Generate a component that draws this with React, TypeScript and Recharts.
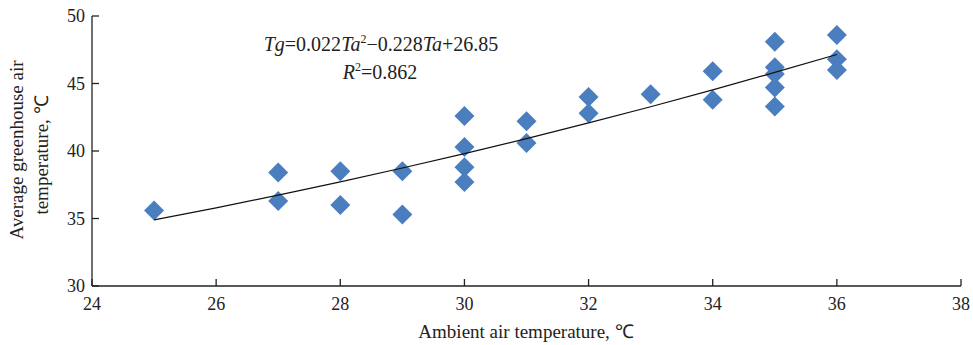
import { Customized, Scatter, ScatterChart, XAxis, YAxis } from "recharts";

// measured greenhouse vs ambient temperatures
const ambient = [25, 27, 27, 28, 28, 29, 29, 30, 30, 30, 30, 31, 31, 32, 32, 33, 34, 34, 35, 35, 35, 35, 35, 36, 36, 36];
const greenhouse = [35.6, 38.4, 36.3, 38.5, 36.0, 38.5, 35.3, 42.6, 40.3, 38.8, 37.7, 42.2, 40.6, 44.0, 42.8, 44.2, 45.9, 43.8, 48.1, 46.2, 45.7, 44.7, 43.3, 48.6, 46.8, 46.0];

// fitted curve Tg = 0.022Ta^2 - 0.228Ta + 26.85
const fitX = [25, 26, 27, 28, 29, 30, 31, 32, 33, 34, 35, 36];
const fitY = [34.9, 35.79, 36.73, 37.71, 38.74, 39.81, 40.92, 42.08, 43.28, 44.53, 45.82, 47.15];

const xTicks = [24, 26, 28, 30, 32, 34, 36, 38];
const yTicks = [30, 35, 40, 45, 50];

const points = ambient.map((x, i) => ({ x, y: greenhouse[i] }));
const fit = fitX.map((x, i) => ({ x, y: fitY[i] }));

const FONT = '"Liberation Serif", "Times New Roman", serif';
const INK = "#222";
const BLUE = "#4a7ebf";

const Diamond = (props: any) => {
  const { cx, cy } = props;
  const r = 10;
  return <path d={`M${cx},${cy - r}L${cx + r},${cy}L${cx},${cy + r}L${cx - r},${cy}Z`} fill={BLUE} />;
};

const NoDot = () => <g />;

// tick marks point into the plot, so labels are offset by hand
const XTick = (props: any) => {
  const { x, y, payload } = props;
  return (
    <text x={x} y={y + 31} textAnchor="middle" fontFamily={FONT} fontSize={18} fill={INK}>
      {payload.value}
    </text>
  );
};

const YTick = (props: any) => {
  const { x, y, payload } = props;
  return (
    <text x={x - 14} y={y + 6} textAnchor="end" fontFamily={FONT} fontSize={18} fill={INK}>
      {payload.value}
    </text>
  );
};

const Equation = () => (
  <g fontFamily={FONT} fontSize={20} fill={INK}>
    <text x={381} y={51} textAnchor="middle">
      <tspan fontStyle="italic">Tg</tspan>
      <tspan>=0.022</tspan>
      <tspan fontStyle="italic">Ta</tspan>
      <tspan fontSize={12} dy={-8}>2</tspan>
      <tspan dy={8}>−0.228</tspan>
      <tspan fontStyle="italic">Ta</tspan>
      <tspan>+26.85</tspan>
    </text>
    <text x={380} y={79} textAnchor="middle">
      <tspan fontStyle="italic">R</tspan>
      <tspan fontSize={12} dy={-8}>2</tspan>
      <tspan dy={8}>=0.862</tspan>
    </text>
  </g>
);

const YTitle = () => (
  <g fontFamily={FONT} fontSize={19} fill={INK}>
    <text x={23} y={150} textAnchor="middle" transform="rotate(-90 23 150)">Average greenhouse air</text>
    <text x={48} y={155} textAnchor="middle" transform="rotate(-90 48 155)">temperature, ℃</text>
  </g>
);

const XTitle = () => (
  <text x={526} y={338} textAnchor="middle" fontFamily={FONT} fontSize={19} fill={INK}>
    Ambient air temperature, ℃
  </text>
);

export default function App() {
  return (
    <div style={{ position: "absolute", left: 0, top: 0, width: 973, height: 345, background: "#fff" }}>
      <ScatterChart width={973} height={345} margin={{ top: 16, right: 12, bottom: 0, left: 0 }} style={{ fontFamily: FONT }}>
        <XAxis
          type="number"
          dataKey="x"
          domain={[24, 38]}
          ticks={xTicks}
          height={59}
          tickSize={-7}
          tickMargin={0}
          axisLine={{ stroke: INK, strokeWidth: 1.3 }}
          tickLine={{ stroke: INK, strokeWidth: 1.3 }}
          tick={<XTick />}
        />
        <YAxis
          type="number"
          dataKey="y"
          domain={[30, 50]}
          ticks={yTicks}
          width={92}
          tickSize={-7}
          tickMargin={0}
          axisLine={{ stroke: INK, strokeWidth: 1.3 }}
          tickLine={{ stroke: INK, strokeWidth: 1.3 }}
          tick={<YTick />}
        />
        <Scatter data={points} shape={Diamond} isAnimationActive={false} />
        <Scatter
          data={fit}
          line={{ stroke: "#111", strokeWidth: 1.2 }}
          lineType="joint"
          shape={NoDot}
          isAnimationActive={false}
        />
        <Customized component={Equation} />
        <Customized component={YTitle} />
        <Customized component={XTitle} />
      </ScatterChart>
    </div>
  );
}
